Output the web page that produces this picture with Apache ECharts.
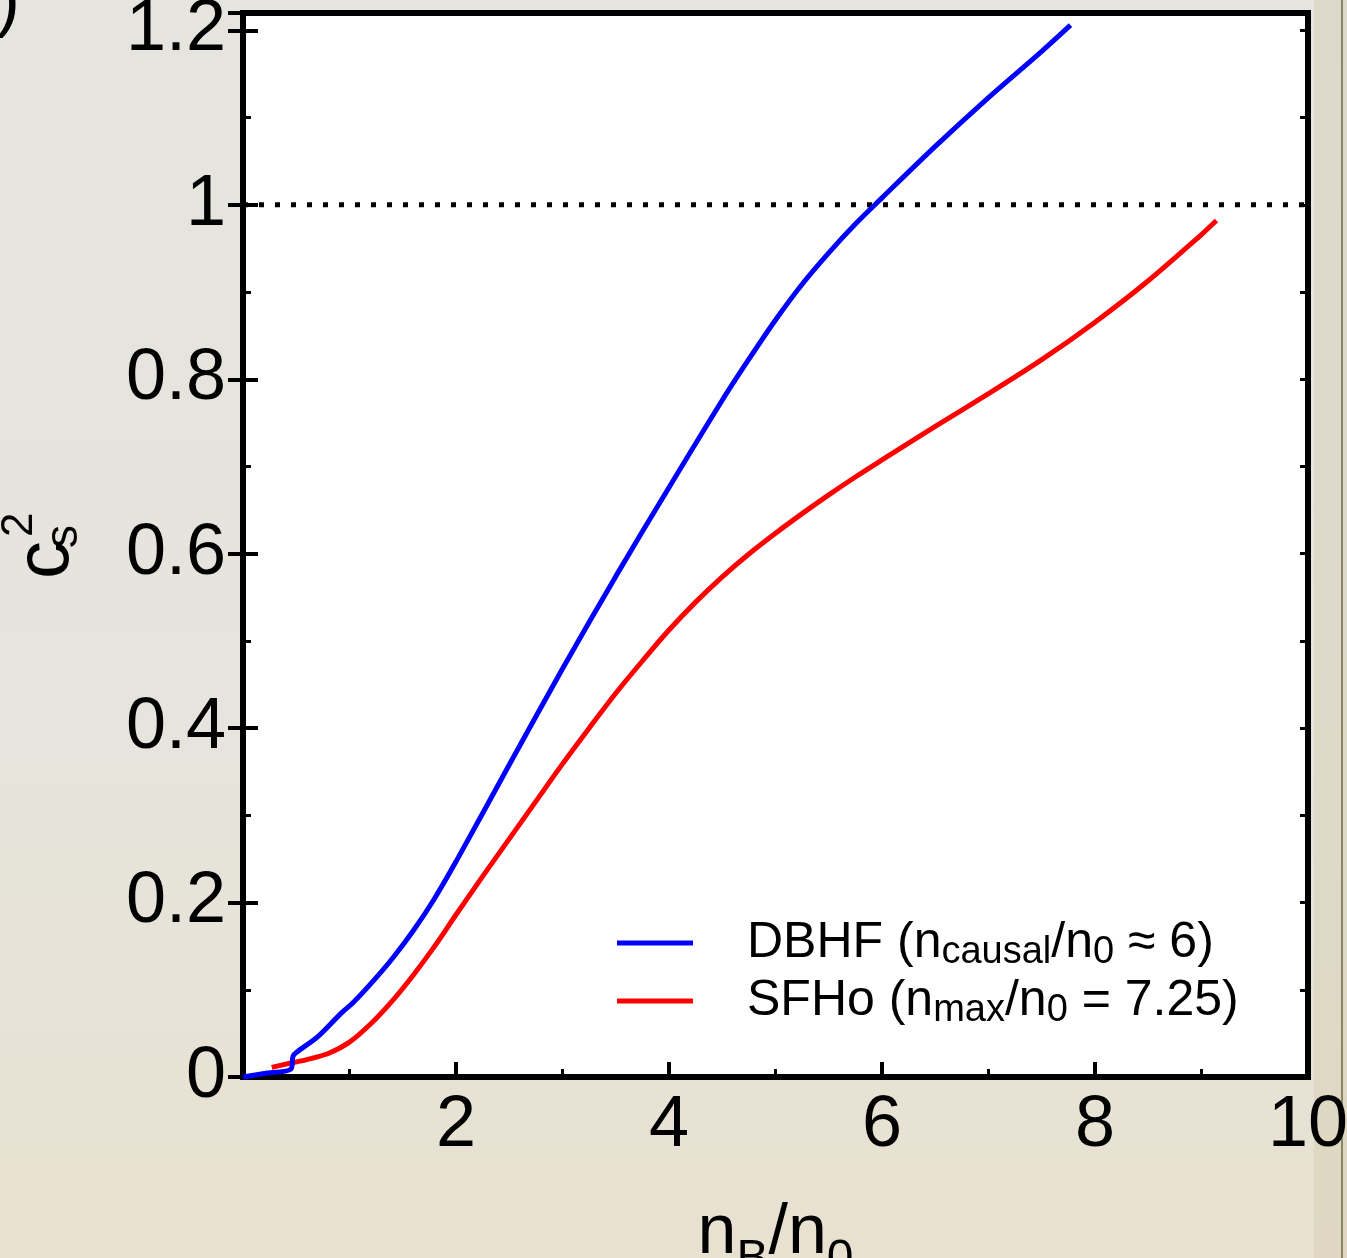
<!DOCTYPE html>
<html>
<head>
<meta charset="utf-8">
<script src="https://cdn.jsdelivr.net/npm/echarts@6/dist/echarts.min.js"></script>
<style>
  html, body { margin: 0; padding: 0; }
  body {
    width: 1347px; height: 1258px; overflow: hidden;
    background: linear-gradient(to bottom, #e5e4de 0%, #e6e4dc 60%, #e8e1d0 100%);
  }
  #chart { width: 1347px; height: 1258px; }
</style>
</head>
<body>
<div id="chart"></div>
<script>
// Squared sound speed c_s^2 versus baryon density n_B/n_0
const dbhfDensity = [0, 0.2, 0.45, 0.47, 0.51, 0.7, 0.92, 1.04, 1.23, 1.41, 1.6, 1.79, 2.0, 2.5, 3.0, 3.5, 4.0, 4.5, 4.75, 5.0, 5.25, 5.5, 5.75, 6.0, 6.5, 7.0, 7.5, 7.77];
const dbhfCs2     = [0, 0.004, 0.009, 0.024, 0.029, 0.046, 0.073, 0.086, 0.111, 0.137, 0.168, 0.203, 0.247, 0.358, 0.468, 0.574, 0.676, 0.776, 0.823, 0.868, 0.909, 0.945, 0.978, 1.008, 1.067, 1.123, 1.176, 1.206];

const sfhoDensity = [0.27, 0.45, 0.6, 0.8, 1.0, 1.2, 1.4, 1.6, 1.8, 2.0, 2.25, 2.5, 2.75, 3.0, 3.25, 3.5, 3.75, 4.0, 4.25, 4.5, 4.75, 5.0, 5.25, 5.5, 5.75, 6.0, 6.5, 7.0, 7.5, 8.0, 8.5, 9.0, 9.14];
const sfhoCs2     = [0.011, 0.016, 0.020, 0.027, 0.040, 0.061, 0.087, 0.117, 0.150, 0.186, 0.230, 0.273, 0.316, 0.359, 0.400, 0.440, 0.477, 0.5125, 0.5445, 0.5735, 0.5997, 0.6235, 0.646, 0.6675, 0.688, 0.7075, 0.746, 0.7835, 0.8225, 0.8655, 0.913, 0.966, 0.982];

// causal limit c_s^2 = 1
const causalLimitDensity = [0, 10];
const causalLimitCs2 = 1;

const xTickValues = [2, 4, 6, 8, 10];
const yTickValues = [0, 0.2, 0.4, 0.6, 0.8, 1, 1.2];

const seriesNames = {
  dbhf: 'DBHF (n_causal/n_0 ≈ 6)',
  sfho: 'SFHo (n_max/n_0 = 7.25)'
};

const pairs = (xs, ys) => xs.map((x, i) => [x, Array.isArray(ys) ? ys[i] : ys]);

const FONT = 'Liberation Sans, Arial, Helvetica, sans-serif';
const near = (v, list) => list.some(t => Math.abs(t - v) < 1e-6);

const chart = echarts.init(document.getElementById('chart'), null, { renderer: 'canvas' });

const majorTick = { show: true, inside: true, length: 15, lineStyle: { color: '#000', width: 4 } };
const minorTickAxis = { show: true, inside: true, length: 8, lineStyle: { color: '#000', width: 3 } };

const option = {
  backgroundColor: 'transparent',
  animation: false,
  grid: {
    left: 243, right: 39, top: 13, bottom: 181,
    show: true, backgroundColor: '#ffffff', borderColor: '#000', borderWidth: 6,
    containLabel: false, outerBoundsMode: 'none'
  },
  xAxis: [
    {
      type: 'value', position: 'bottom', min: 0, max: 10, interval: 2,
      axisLine: { show: false },
      axisTick: majorTick,
      minorTick: { show: true, splitNumber: 2, length: 8, lineStyle: { color: '#000', width: 3 } },
      splitLine: { show: false }, minorSplitLine: { show: false },
      axisLabel: {
        color: '#000', fontFamily: FONT, fontSize: 72, margin: 13,
        formatter: v => near(v, xTickValues) ? String(v) : ''
      },
      name: '{m|n}{s|B}{m|/n}{s|0}',
      nameLocation: 'middle', nameGap: 107,
      nameTextStyle: {
        color: '#000', fontFamily: FONT,
        rich: {
          m: { fontFamily: FONT, fontSize: 70, color: '#000', lineHeight: 100 },
          s: { fontFamily: FONT, fontSize: 48, color: '#000', lineHeight: 100, padding: [51, 0, 0, 0] }
        }
      }
    },
    {
      type: 'value', position: 'top', min: 0, max: 10, interval: 2,
      axisLine: { show: false }, axisTick: { show: false },
      axisLabel: { show: false }, splitLine: { show: false }
    }
  ],
  yAxis: [
    {
      type: 'value', position: 'left', min: 0, max: 1.22, interval: 0.2,
      axisLine: { show: false },
      axisTick: majorTick,
      splitLine: { show: false },
      axisLabel: {
        color: '#000', fontFamily: FONT, fontSize: 72, margin: 17,
        formatter: v => near(v, yTickValues) ? String(+v.toFixed(1)) : ''
      }
    },
    {
      type: 'value', position: 'right', min: 0, max: 1.22, interval: 0.2,
      axisLine: { show: false }, axisTick: majorTick,
      axisLabel: { show: false }, splitLine: { show: false }
    },
    {
      type: 'value', position: 'left', min: 0, max: 1.22, interval: 0.1,
      axisLine: { show: false }, axisTick: minorTickAxis,
      axisLabel: { show: false }, splitLine: { show: false }
    },
    {
      type: 'value', position: 'right', min: 0, max: 1.22, interval: 0.1,
      axisLine: { show: false }, axisTick: minorTickAxis,
      axisLabel: { show: false }, splitLine: { show: false }
    }
  ],
  legend: {
    left: 617, top: 914, orient: 'vertical', padding: 0,
    itemWidth: 76, itemHeight: 5, itemGap: 0, icon: 'rect',
    selectedMode: false,
    data: [seriesNames.dbhf, seriesNames.sfho],
    formatter: name => {
      const m = name.match(/^(.*?\(n)_(\w+)\/n_0(.*)$/);
      return '{gap|}{m|' + m[1] + '}{s|' + m[2] + '}{m|/n}{s|0}{m|' + m[3] + '}';
    },
    textStyle: {
      color: '#000',
      rich: {
        gap: { width: 49, lineHeight: 54 },
        m: { fontFamily: FONT, fontSize: 50, color: '#000', lineHeight: 54 },
        s: { fontFamily: FONT, fontSize: 38, color: '#000', lineHeight: 54, padding: [20, 0, 0, 0] }
      }
    }
  },
  graphic: [
    // right edge of the page
    { type: 'rect', z: -10, shape: { x: 1314, y: 0, width: 33, height: 1258 }, style: { fill: 'rgba(205,198,165,0.35)' } },
    { type: 'rect', z: -9, shape: { x: 1341, y: 0, width: 2, height: 1258 }, style: { fill: '#8a8566' } },
    // panel tag
    {
      type: 'text', x: 20, y: 3,
      style: { text: '(b)', font: '72px ' + FONT, fill: '#000', textAlign: 'right', textVerticalAlign: 'middle' }
    },
    // y axis title: c_s^2, read bottom to top
    {
      type: 'group', x: 72, y: 579, rotation: Math.PI / 2,
      children: [
        { type: 'text', x: 0, y: -25, style: { text: 'c', font: '76px ' + FONT, fill: '#000', textVerticalAlign: 'middle' } },
        { type: 'text', x: 31, y: -8, style: { text: 's', font: '46px ' + FONT, fill: '#000', textVerticalAlign: 'middle' } },
        { type: 'text', x: 42, y: -52, style: { text: '2', font: '44px ' + FONT, fill: '#000', textVerticalAlign: 'middle' } }
      ]
    }
  ],
  series: [
    {
      type: 'line', name: 'causal limit', silent: true, symbol: 'none',
      data: pairs(causalLimitDensity, causalLimitCs2),
      lineStyle: { color: '#000', width: 5, type: [5, 11], cap: 'butt' },
      z: 3
    },
    {
      type: 'line', name: seriesNames.sfho, symbol: 'none', smooth: 0.3,
      data: pairs(sfhoDensity, sfhoCs2),
      lineStyle: { color: '#ff0000', width: 5 }, itemStyle: { color: '#ff0000' },
      z: 4
    },
    {
      type: 'line', name: seriesNames.dbhf, symbol: 'none', smooth: 0.3,
      data: pairs(dbhfDensity, dbhfCs2),
      lineStyle: { color: '#0000ff', width: 5 }, itemStyle: { color: '#0000ff' },
      z: 5
    }
  ]
};

chart.setOption(option);
</script>
</body>
</html>
